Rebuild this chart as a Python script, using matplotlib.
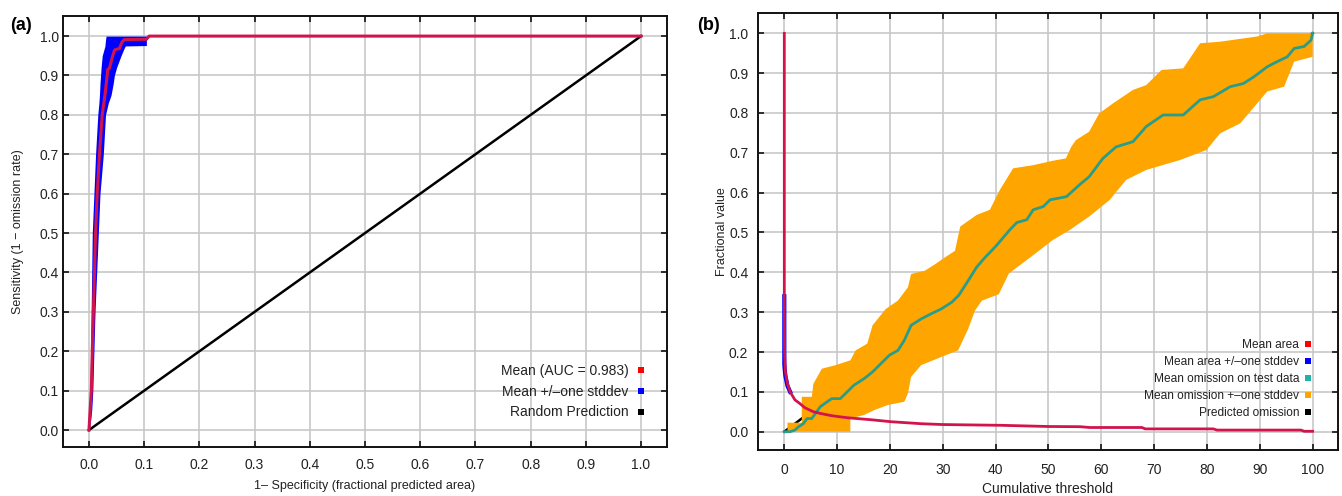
import numpy as np
import matplotlib
matplotlib.use("Agg")
import matplotlib.pyplot as plt
from matplotlib.lines import Line2D

plt.rcParams['font.family'] = ['Liberation Sans', 'DejaVu Sans']

# ---------------- Panel (a): ROC ----------------
roc_fpr = [0.0, 0.0043, 0.006, 0.008, 0.010, 0.012, 0.015, 0.019, 0.024, 0.029, 0.033, 0.034,
           0.037, 0.042, 0.046, 0.048, 0.055, 0.060, 0.064, 0.104, 0.109, 1.0]
roc_tpr = [0.0, 0.10, 0.20, 0.30, 0.40, 0.50, 0.60, 0.70, 0.80, 0.85, 0.90, 0.915,
           0.918, 0.945, 0.963, 0.966, 0.968, 0.985, 0.991, 0.992, 1.0, 1.0]

band_tpr = [0.0, 0.05, 0.1, 0.2, 0.3, 0.4, 0.5, 0.6, 0.7, 0.75, 0.8, 0.83, 0.85, 0.88, 0.9,
            0.92, 0.95, 0.96, 0.97, 0.975, 0.976, 0.99, 1.0]
band_left = [0.0, 0.001, 0.002, 0.003, 0.004, 0.005, 0.006, 0.009, 0.012, 0.014, 0.016, 0.018,
             0.019, 0.020, 0.021, 0.022, 0.024, 0.026, 0.028, 0.029, 0.029, 0.030, 0.031]
band_right = [0.001, 0.005, 0.007, 0.009, 0.011, 0.014, 0.017, 0.020, 0.026, 0.028, 0.030, 0.035,
              0.040, 0.044, 0.046, 0.050, 0.058, 0.061, 0.064, 0.066, 0.104, 0.104, 0.109]

random_x = [0.0, 1.0]
random_y = [0.0, 1.0]

roc_ticks = [0.0, 0.1, 0.2, 0.3, 0.4, 0.5, 0.6, 0.7, 0.8, 0.9, 1.0]
roc_ticklabels = ['0.0', '0.1', '0.2', '0.3', '0.4', '0.5', '0.6', '0.7', '0.8', '0.9', '1.0']
roc_legend = ['Mean (AUC = 0.983)', 'Mean +/\u2013one stddev', 'Random Prediction']

# ---------------- Panel (b): omission / area ----------------
area_x = [0, 0, 0.05, 0.2, 0.6, 1.1, 2.0, 3.0, 3.9, 5.5, 7.1, 9.0, 11.9, 16.4, 20.2, 25.9, 29.7,
          35, 41, 50, 56, 57.8, 67.7, 68.3, 81.2, 81.9, 97.8, 98.4, 100]
area_y = [1.0, 0.33, 0.2, 0.15, 0.12, 0.10, 0.08, 0.07, 0.06, 0.05, 0.045, 0.04, 0.035, 0.03,
          0.025, 0.02, 0.018, 0.017, 0.016, 0.013, 0.0125, 0.0105, 0.0105, 0.007, 0.007, 0.004,
          0.004, 0.001, 0.001]
# portion of the area curve where the stddev band is visible
area_sd_x = [0, 0, 0.05, 0.2, 0.6, 1.1]
area_sd_y = [0.34, 0.17, 0.16, 0.14, 0.115, 0.10]

om_x = [0, 1.1, 2.0, 2.7, 3.6, 4.3, 5.2, 5.9, 6.8, 8.1, 9.0, 10.6, 11.9, 13.2, 15.1, 16.7, 18.3,
        19.9, 21.5, 22.7, 24.0, 25.9, 27.8, 29.7, 31.7, 33.0, 34.8, 36.4, 38.0, 40.0, 42.7, 44.0,
        45.9, 47.1, 49.0, 50.3, 53.4, 55.9, 57.7, 60.3, 62.8, 66.0, 68.5, 71.7, 75.5, 78.7, 81.2,
        84.4, 86.9, 88.9, 91.4, 93.3, 95.2, 96.5, 98.4, 99.7, 100]
om_y = [0, 0, 0.004, 0.0125, 0.02, 0.033, 0.033, 0.046, 0.0625, 0.075, 0.083, 0.083, 0.1, 0.117,
        0.133, 0.15, 0.171, 0.192, 0.204, 0.229, 0.267, 0.283, 0.296, 0.308, 0.325, 0.342, 0.379,
        0.413, 0.4375, 0.465, 0.507, 0.525, 0.532, 0.557, 0.565, 0.582, 0.59, 0.62, 0.64, 0.686,
        0.715, 0.728, 0.766, 0.795, 0.795, 0.833, 0.841, 0.866, 0.874, 0.891, 0.916, 0.929, 0.941,
        0.962, 0.967, 0.983, 1.0]

om_up_x = [0.6, 3.3, 3.3, 5.2, 5.5, 7.1, 9.7, 12.5, 13.5, 15.7, 16.7, 19.2, 21.5, 23.4, 24.0,
           26.6, 28.5, 30.4, 32.3, 33.3, 36.4, 38.9, 40.8, 43.3, 47.1, 50.8, 53.3, 54.3, 55.2,
           57.7, 59.6, 62.2, 66.0, 68.5, 71.4, 75.5, 78.7, 82.5, 89.5, 91.4, 100]
om_up_y = [0.0225, 0.0225, 0.0875, 0.0875, 0.12, 0.158, 0.167, 0.179, 0.204, 0.221, 0.267, 0.308,
           0.329, 0.3625, 0.396, 0.404, 0.42, 0.4375, 0.454, 0.515, 0.544, 0.557, 0.607, 0.661,
           0.669, 0.680, 0.686, 0.715, 0.732, 0.753, 0.799, 0.824, 0.858, 0.87, 0.908, 0.912,
           0.975, 0.979, 0.992, 1.0, 1.0]
om_lo_x = [0.6, 12.5, 12.5, 15.1, 17.0, 19.6, 22.7, 23.4, 24.0, 25.9, 29.7, 32.9, 34.8, 36.1,
           37.4, 40.6, 42.5, 47.6, 50.8, 54.0, 57.7, 61.6, 64.7, 68.5, 74.9, 79.9, 82.5, 86.3,
           89.5, 91.4, 94.6, 96.5, 100]
om_lo_y = [0, 0, 0.033, 0.042, 0.054, 0.067, 0.075, 0.096, 0.1375, 0.167, 0.1875, 0.204, 0.258,
           0.304, 0.329, 0.345, 0.397, 0.448, 0.481, 0.506, 0.54, 0.582, 0.632, 0.657, 0.682,
           0.707, 0.749, 0.774, 0.824, 0.854, 0.866, 0.929, 0.941]

pred_x = [0, 100]
pred_y = [0.0, 1.0]

thr_ticks = [0, 10, 20, 30, 40, 50, 60, 70, 80, 90, 100]
frac_ticks = [0.0, 0.1, 0.2, 0.3, 0.4, 0.5, 0.6, 0.7, 0.8, 0.9, 1.0]
frac_ticklabels = ['0.0', '0.1', '0.2', '0.3', '0.4', '0.5', '0.6', '0.7', '0.8', '0.9', '1.0']
om_legend = ['Mean area', 'Mean area +/\u2013one stddev', 'Mean omission on test data',
             'Mean omission +\u2013one stddev', 'Predicted omission']

# ---------------- styles ----------------
RED = '#d2144c'
BLUE = '#0000ff'
TEAL = '#2a9d8a'
ORANGE = '#ffa500'
GRID = '#c8c8c8'
TXT = '#222222'

fig = plt.figure(figsize=(13.42, 4.96), dpi=100)
W, H = 1342, 496
ax1 = fig.add_axes([63 / W, 49 / H, 604 / W, 431 / H])
ax2 = fig.add_axes([758 / W, 46 / H, 580 / W, 437 / H])


def style(ax):
    ax.grid(True, color=GRID, linewidth=1.2)
    ax.set_axisbelow(True)
    for s in ax.spines.values():
        s.set_linewidth(1.4)
        s.set_color('#111111')
    ax.tick_params(direction='in', length=4, width=1.2, top=True, right=True,
                   labelsize=10, labelcolor=TXT, color='#111111')


# Panel (a)
style(ax1)
ax1.fill_betweenx(band_tpr, band_left, band_right, color=BLUE, linewidth=0, zorder=2)
ax1.plot(random_x, random_y, color='black', linewidth=1.8, zorder=3)
ax1.plot(roc_fpr, roc_tpr, color=RED, linewidth=2.2, zorder=4)
ax1.set_xlim(-0.047, 1.047)
ax1.set_ylim(-0.043, 1.051)
ax1.set_xticks(roc_ticks)
ax1.set_xticklabels(roc_ticklabels)
ax1.set_yticks(roc_ticks)
ax1.set_yticklabels(roc_ticklabels)
ax1.tick_params(axis='x', pad=8)
ax1.tick_params(axis='y', pad=3)
ax1.set_xlabel('1\u2013 Specificity (fractional predicted area)', fontsize=9, color=TXT, labelpad=6)
ax1.set_ylabel('Sensitivity (1 \u2212 omission rate)', fontsize=9, color=TXT, labelpad=11)
h1 = [Line2D([], [], marker='s', linestyle='none', markersize=5, color=c, markeredgewidth=0)
      for c in ['#ff0000', BLUE, 'black']]
ax1.legend(h1, roc_legend, loc='lower right', bbox_to_anchor=(0.975, 0.048), frameon=False,
           markerfirst=False, fontsize=10, handlelength=0.6, handletextpad=0.6,
           labelspacing=0.47, borderpad=0, labelcolor=TXT)

# Panel (b)
style(ax2)
ax2.plot(pred_x, pred_y, color='black', linewidth=1.8, zorder=2)
ax2.fill(list(om_up_x) + list(om_lo_x[::-1]), list(om_up_y) + list(om_lo_y[::-1]),
         color=ORANGE, linewidth=0, zorder=3)
ax2.plot(om_x, om_y, color=TEAL, linewidth=2.0, zorder=4)
ax2.plot(area_sd_x, area_sd_y, color=BLUE, linewidth=3.0, zorder=5)
ax2.plot(area_x, area_y, color=RED, linewidth=2.0, zorder=6)
ax2.set_xlim(-4.98, 104.8)
ax2.set_ylim(-0.046, 1.051)
ax2.set_xticks(thr_ticks)
ax2.set_yticks(frac_ticks)
ax2.set_yticklabels(frac_ticklabels)
ax2.tick_params(axis='x', pad=9)
ax2.tick_params(axis='y', pad=7)
ax2.set_xlabel('Cumulative threshold', fontsize=10, color=TXT, labelpad=4)
ax2.set_ylabel('Fractional value', fontsize=9, color=TXT, labelpad=1)
h2 = [Line2D([], [], marker='s', linestyle='none', markersize=4.5, color=c, markeredgewidth=0)
      for c in ['#ff0000', BLUE, '#20b2aa', ORANGE, 'black']]
ax2.legend(h2, om_legend, loc='lower right', bbox_to_anchor=(0.965, 0.057), frameon=False,
           markerfirst=False, fontsize=8.6, handlelength=0.6, handletextpad=0.45,
           labelspacing=0.42, borderpad=0, labelcolor=TXT)

fig.text(10 / W, 1 - 26 / H, '(a)', fontsize=13, fontweight='bold', va='center', ha='left')
fig.text(697 / W, 1 - 26 / H, '(b)', fontsize=13, fontweight='bold', va='center', ha='left')

fig.savefig('out.png', dpi=100)
